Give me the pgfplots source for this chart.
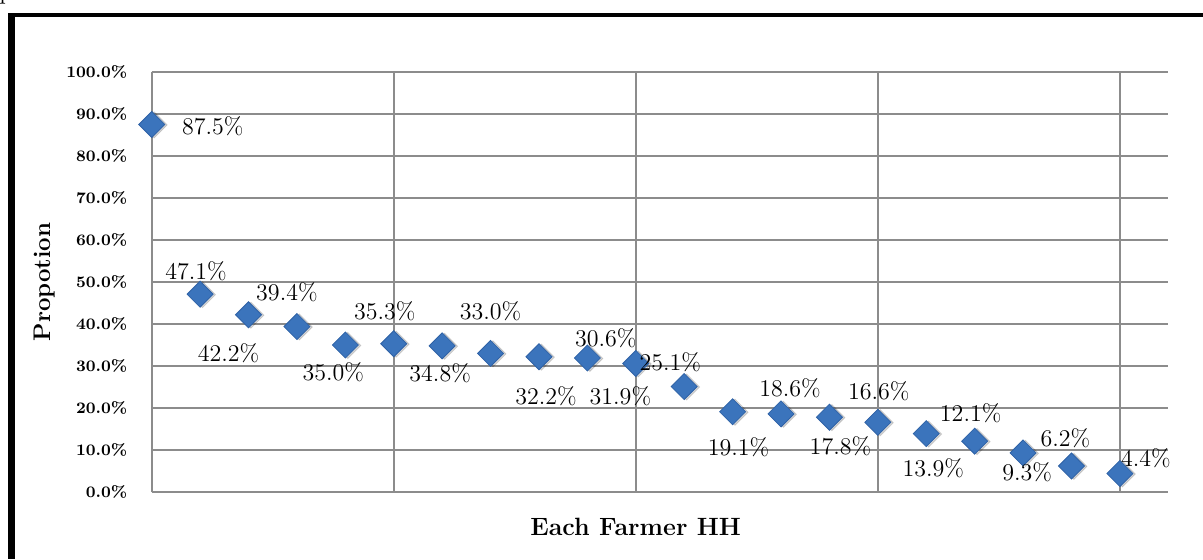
\documentclass[border=0pt]{standalone}
\usepackage{pgfplots}
\usepackage{pgfplotstable}
\pgfplotsset{compat=1.18}

\definecolor{gridgray}{HTML}{8C8C8C}
\definecolor{markblue}{HTML}{3B74BC}
\definecolor{markedge}{HTML}{2F62A6}

% x, share, label offset (pt)
\pgfplotstableread{
x y dx dy
0 87.5 30.5 -1
1 47.1 -2 11.5
2 42.2 -10 -19
3 39.4 -5 17
4 35.0 -6 -13.5
5 35.3 -4.5 16.5
6 34.8 -1 -13.5
7 33.0 0 21
8 32.2 3.5 -19.5
9 31.9 16.5 -19
10 30.6 -15 12.5
11 25.1 -7 12
12 19.1 3 -17.5
13 18.6 4.5 13
14 17.8 5.5 -14.5
15 16.6 0.5 15.5
16 13.9 3.5 -17.5
17 12.1 -2 14
18 9.3 2 -9.5
19 6.2 -3 14
20 4.4 13 7.5
}\farmdata

\begin{document}
\begin{tikzpicture}
\useasboundingbox (0,0) rectangle (601.5pt,279.5pt);
% frame of the page
\fill (4.15pt,0pt) rectangle (7.5pt,272.85pt);
\fill (4.15pt,270.85pt) rectangle (601.5pt,272.85pt);
\node[anchor=base west, inner sep=0pt, font=\fontsize{12}{14}\selectfont] at (-0.5pt,279.8pt) {p};
\begin{axis}[
    at={(75.85pt,33.5pt)}, anchor=south west,
    scale only axis, width=508.3pt, height=210pt,
    xmin=0, xmax=21, ymin=0, ymax=100,
    clip=false,
    axis x line*=bottom, axis y line*=left,
    axis line style={draw=gridgray, line width=0.9pt, -},
    xtick={0,5,10,15,20}, xticklabels={},
    ytick={0,10,...,100},
    major tick length=0pt,
    xmajorgrids, ymajorgrids,
    grid style={draw=gridgray, line width=0.9pt},
    /pgf/number format/assume math mode=true,
    yticklabel={\pgfmathprintnumber[fixed,fixed zerofill,precision=1]{\tick}\%},
    yticklabel style={anchor=east, inner sep=0pt, xshift=-12pt,
        font=\bfseries\fontsize{8}{9}\selectfont},
    xlabel={Each Farmer HH},
    ylabel={Propotion},
    xlabel style={at={(axis description cs:0.476,-0.0833)}, anchor=center,
        font=\bfseries\fontsize{12.5}{14}\selectfont},
    ylabel style={at={(axis description cs:-0.1053,0.5)}, anchor=center, rotate=0,
        font=\bfseries\fontsize{12}{14}\selectfont},
]
% soft shadow under the markers
\addplot[only marks, mark=square*, mark size=4.6pt,
    mark options={rotate=45, fill=black, draw=none, opacity=0.15, xshift=0.7pt, yshift=-1pt}]
    table[x=x, y=y] {\farmdata};
\addplot[only marks, mark=square*, mark size=4.6pt,
    mark options={rotate=45, fill=markblue, draw=markedge, line width=0.4pt},
    point meta=\thisrow{y},
    visualization depends on={\thisrow{dx} \as \labeldx},
    visualization depends on={\thisrow{dy} \as \labeldy},
    nodes near coords={\pgfmathprintnumber[fixed,fixed zerofill,precision=1]{\pgfplotspointmeta}\%},
    every node near coord/.append style={anchor=center, inner sep=0pt,
        xshift=\labeldx pt, yshift=\labeldy pt,
        font=\fontsize{12}{14}\selectfont, text=black},
    ]
    table[x=x, y=y] {\farmdata};
\end{axis}
\end{tikzpicture}
\end{document}
